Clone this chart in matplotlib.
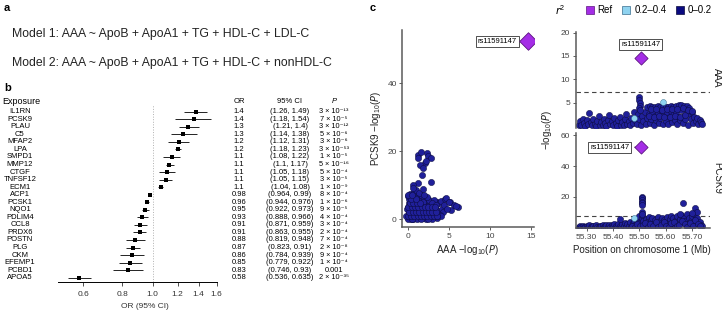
import numpy as np
import matplotlib.pyplot as plt
from matplotlib.lines import Line2D

plt.rcParams['font.family'] = ['Liberation Sans', 'DejaVu Sans']
plt.rcParams['mathtext.default'] = 'regular'

W, H = 722, 312

# ---- panel b: forest plot data ----
exposures = ['IL1RN', 'PCSK9', 'PLAU', 'C5', 'MFAP2', 'LPA', 'SMPD1', 'MMP12', 'CTGF',
             'TNFSF12', 'ECM1', 'ACP1', 'PCSK1', 'NQO1', 'PDLIM4', 'CCL8', 'PRDX6',
             'POSTN', 'PLG', 'CKM', 'EFEMP1', 'PCBD1', 'APOA5']
or_point = [1.37, 1.35, 1.30, 1.25, 1.21, 1.20, 1.15, 1.13, 1.11, 1.10, 1.06, 0.977,
            0.96, 0.947, 0.926, 0.914, 0.908, 0.881, 0.865, 0.858, 0.848, 0.833, 0.583]
or_text = ['1.4', '1.4', '1.3', '1.3', '1.2', '1.2', '1.1', '1.1', '1.1', '1.1', '1.1', '0.98',
           '0.96', '0.95', '0.93', '0.91', '0.91', '0.88', '0.87', '0.86', '0.85', '0.83', '0.58']
ci_lo = [1.26, 1.18, 1.21, 1.14, 1.12, 1.18, 1.08, 1.1, 1.05, 1.05, 1.04, 0.964, 0.944,
         0.922, 0.888, 0.871, 0.863, 0.819, 0.823, 0.784, 0.779, 0.746, 0.536]
ci_hi = [1.49, 1.54, 1.4, 1.38, 1.31, 1.23, 1.22, 1.17, 1.18, 1.15, 1.08, 0.99, 0.976,
         0.973, 0.966, 0.959, 0.955, 0.948, 0.91, 0.939, 0.922, 0.93, 0.635]
ci_text = ['(1.26, 1.49)', '(1.18, 1.54)', '(1.21, 1.4)', '(1.14, 1.38)', '(1.12, 1.31)',
           '(1.18, 1.23)', '(1.08, 1.22)', '(1.1, 1.17)', '(1.05, 1.18)', '(1.05, 1.15)',
           '(1.04, 1.08)', '(0.964, 0.99)', '(0.944, 0.976)', '(0.922, 0.973)',
           '(0.888, 0.966)', '(0.871, 0.959)', '(0.863, 0.955)', '(0.819, 0.948)',
           '(0.823, 0.91)', '(0.784, 0.939)', '(0.779, 0.922)', '(0.746, 0.93)',
           '(0.536, 0.635)']
p_mant = ['3', '7', '3', '5', '3', '3', '1', '5', '5', '3', '1', '8', '1', '9', '4', '3',
          '2', '7', '2', '9', '1', None, '2']
p_exp = [-13, -5, -12, -6, -6, -53, -5, -16, -4, -5, -9, -4, -6, -5, -4, -4, -4, -4, -8,
         -4, -4, None, -35]
or_ticks = [0.6, 0.8, 1.0, 1.2, 1.4, 1.6]

# ---- panel c: colocalization data ----
scat_aaa = [1.3, 2.3, 1.3, 2.5, 2.1, 1.5, 2.8, 1.7, 2.8, 1.3, 0.7, 1.6, 2.2, 1.9,
            0.0, 0.1, 0.2, 0.3, 0.4, 0.5, 0.6, 0.7, 0.8, 0.9, 1.0, 1.1, 1.2, 1.3, 1.4,
            1.5, 1.6, 1.7, 1.8, 1.9, 2.0, 2.1, 2.2, 2.3, 2.4, 2.5, 2.6, 2.7, 2.8, 2.9,
            3.0, 3.1, 3.2, 3.3, 3.4, 3.5, 3.6, 3.7, 3.8, 4.0, 4.2, 4.3, 4.5, 4.7, 5.1,
            5.3, 6.1, 5.6, 0.2, 0.5, 0.3, 0.8, 1.2, 1.6, 1.0, 0.6, 2.0, 2.6, 1.8, 0.1,
            0.0, 0.4, 0.9, 1.1, 1.5, 2.2, 2.7, 3.0, 3.3, 0.2, 1.4, 2.4, 3.2, 0.7, 1.9,
            0.0, 0.5, 1.6, 2.5, 3.5, 0.3, 0.7, 1.2, 1.8, 2.3, 2.8, 3.1, 3.9, 4.1, 0.1,
            0.9, 1.3, 2.9, 3.4, 4.4, 4.8, 5.0, 5.8, -0.2, -0.1, 0.6, 1.0, 2.0, 3.6,
            0.0, 0.4, 0.8, 1.2, 1.6, 2.0, 2.4, 2.8, 3.2, 3.6, 0.2, 0.6, 1.0, 1.4, 1.8,
            2.2, 2.6, 3.0, 3.4, 0.1, 0.5, 0.9, 1.3, 1.7, 2.1, 2.5, 2.9, 3.3, 0.3, 0.7,
            1.1, 1.5, 0.4, 1.0, 0.0, 0.5]
scat_pcsk9 = [18.8, 19.5, 17.8, 18.5, 16.4, 15.9, 17.8, 12.9, 11.0, 10.5, 10.0, 19.8, 17.2, 15.0,
              0.2, 1.0, 2.1, 0.5, 3.2, 1.5, 0.1, 2.6, 4.1, 0.8, 1.9, 3.5, 0.3, 2.4, 5.2,
              1.1, 0.6, 3.0, 1.7, 0.2, 2.8, 4.5, 1.3, 0.4, 3.7, 2.0, 0.9, 1.5, 0.3, 2.6,
              4.2, 1.0, 0.5, 3.3, 1.8, 0.2, 5.0, 2.3, 4.6, 5.4, 3.0, 2.1, 5.8, 6.1, 5.1,
              2.6, 3.6, 4.2, 4.8, 6.3, 7.4, 7.9, 6.8, 7.2, 8.4, 5.6, 6.0, 5.5, 4.9, 3.6,
              2.9, 0.0, 2.5, 0.0, 3.9, 0.0, 3.2, 0.0, 2.0, 5.9, 7.6, 6.6, 5.6, 9.0, 8.7,
              0.0, 0.0, 0.0, 0.0, 1.2, 1.6, 1.2, 1.4, 2.9, 2.3, 2.0, 3.0, 1.3, 0.8, 6.8,
              5.3, 4.4, 4.7, 4.0, 4.0, 3.0, 4.9, 3.8, 1.0, 3.0, 4.0, 6.1, 7.0, 1.0,
              1.0, 1.0, 1.0, 1.0, 1.0, 1.0, 1.0, 1.0, 1.0, 1.0, 2.2, 2.2, 2.2, 2.2, 2.2,
              2.2, 2.2, 2.2, 2.2, 3.4, 3.4, 3.4, 3.4, 3.4, 3.4, 3.4, 3.4, 3.4, 4.6, 4.6,
              4.6, 4.6, 5.8, 5.8, 7.0, 7.0]

band_pos = [55.270, 55.275, 55.280, 55.285, 55.290, 55.295, 55.300, 55.305, 55.310, 55.315,
            55.320, 55.325, 55.330, 55.335, 55.340, 55.345, 55.350, 55.355, 55.360, 55.365,
            55.370, 55.375, 55.380, 55.385, 55.390, 55.395, 55.400, 55.405, 55.410, 55.415,
            55.420, 55.425, 55.430, 55.435, 55.440, 55.445, 55.450, 55.455, 55.460, 55.465,
            55.470, 55.475, 55.480, 55.485, 55.490, 55.495, 55.500, 55.505, 55.510, 55.515,
            55.520, 55.525, 55.530, 55.535, 55.540, 55.545, 55.550, 55.555, 55.560, 55.565,
            55.570, 55.575, 55.580, 55.585, 55.590, 55.595, 55.600, 55.605, 55.610, 55.615,
            55.620, 55.625, 55.630, 55.635, 55.640, 55.645, 55.650, 55.655, 55.660, 55.665,
            55.670, 55.675, 55.680, 55.685, 55.690, 55.695, 55.700, 55.705, 55.710, 55.715,
            55.720, 55.725, 55.730, 55.735, 55.740]
aaa_band = [0.3, 1.0, 0.2, 1.6, 0.6, 0.1, 1.2, 0.4, 2.7, 0.8, 0.2, 1.4, 0.5, 0.1, 1.1, 2.2,
            0.3, 0.9, 0.2, 1.5, 0.6, 0.1, 1.3, 2.4, 0.4, 1.0, 0.2, 1.7, 0.7, 0.1, 1.2, 2.0,
            0.3, 0.9, 0.2, 1.4, 2.5, 0.5, 1.1, 0.2, 1.8, 0.6, 2.9, 1.3, 0.4, 2.6, 1.5, 0.3,
            2.2, 1.0, 3.1, 0.5, 1.8, 2.6, 0.7, 1.4, 3.0, 0.3, 2.1, 1.2, 2.8, 0.6, 1.7, 3.2,
            0.4, 2.3, 1.1, 2.9, 0.5, 1.9, 3.3, 0.8, 2.4, 1.3, 3.0, 0.4, 2.0, 1.2, 3.4, 0.7,
            2.2, 1.5, 3.1, 0.3, 2.6, 1.4, 2.9, 0.6, 2.0, 1.1, 1.7, 0.4, 1.3, 0.8, 0.5]
pcsk9_band = [0.4, 0.9, 0.2, 1.3, 0.6, 0.3, 1.1, 0.5, 1.5, 0.2, 0.8, 1.2, 0.4, 1.6, 0.7, 0.2,
              1.4, 0.9, 1.8, 0.3, 1.1, 2.0, 0.6, 1.5, 0.2, 1.9, 0.8, 2.3, 1.2, 0.4, 2.6, 1.0,
              0.3, 2.1, 1.4, 3.0, 0.7, 2.2, 1.1, 3.4, 0.5, 2.8, 4.1, 1.6, 5.2, 3.0, 7.5, 2.4,
              6.0, 4.4, 1.2, 5.6, 3.5, 6.8, 2.0, 4.9, 6.2, 1.5, 5.3, 3.1, 7.0, 2.6, 4.6, 6.5,
              1.8, 5.0, 3.8, 6.9, 2.2, 5.5, 7.3, 3.3, 6.1, 1.4, 4.8, 7.8, 2.9, 5.7, 8.2, 3.6,
              6.4, 4.2, 8.9, 2.5, 6.0, 4.5, 7.6, 3.0, 9.0, 5.4, 6.6, 3.2, 4.0, 1.9, 0.8]

aaa_hit_pos = [55.499, 55.500, 55.501, 55.502, 55.500, 55.503, 55.530, 55.540, 55.550, 55.560,
               55.570, 55.580, 55.590, 55.600, 55.610, 55.620, 55.630, 55.640, 55.650, 55.660,
               55.670, 55.680, 55.690, 55.535, 55.555, 55.575, 55.595, 55.615, 55.635, 55.655,
               55.675, 55.545, 55.565, 55.585, 55.605, 55.625, 55.645, 55.665, 55.685, 55.700]
aaa_hit_logp = [6.3, 5.6, 4.9, 4.3, 3.8, 3.4, 4.1, 4.2, 4.0, 4.1, 4.2, 4.1, 4.0, 4.1, 4.0,
                4.2, 4.1, 4.3, 4.5, 4.4, 4.3, 4.2, 3.9, 2.1, 2.0, 2.2, 2.0, 1.9, 2.1, 2.0,
                2.3, 3.6, 3.7, 3.5, 3.6, 3.7, 3.6, 3.8, 3.5, 3.2]

pcsk9_fill_pos = [55.4725, 55.4825, 55.4925, 55.5025, 55.5125, 55.5225, 55.5325, 55.5425,
                  55.5525, 55.5625, 55.5725, 55.5825, 55.5925, 55.6025, 55.6125, 55.6225,
                  55.6325, 55.6425, 55.6525, 55.6625, 55.6725, 55.6825, 55.6925, 55.7025,
                  55.7125, 55.7225, 55.7325]
pcsk9_fill_logp = [1.0, 0.4, 2.2, 0.8, 1.5, 3.0, 0.6, 2.4, 1.1, 3.6, 0.5, 2.0, 4.0, 1.3,
                   0.7, 2.8, 3.9, 0.9, 1.7, 4.4, 2.6, 0.6, 3.3, 1.2, 4.7, 2.1, 0.9]
pcsk9_hit_pos = [55.510, 55.510, 55.511, 55.509, 55.510, 55.511, 55.510, 55.509, 55.512,
                 55.667, 55.712, 55.720, 55.427, 55.700, 55.655]
pcsk9_hit_logp = [20.0, 19.0, 18.0, 17.0, 16.0, 15.0, 10.4, 8.0, 9.2, 15.8, 12.6, 10.4,
                  5.4, 9.6, 9.0]

aaa_mid_pos = [55.589, 55.481]        # r2 0.2-0.4
aaa_mid_logp = [5.2, 1.65]
pcsk9_mid_pos = [55.480]
pcsk9_mid_logp = [6.5]

lead_snp = 'rs11591147'
lead_pos = 55.505
lead_aaa = 14.6
lead_pcsk9 = 52.3
gws = 7.3

NAVY = '#20209a'
NAVY_EDGE = '#0a0a3c'
LBLUE = '#8fd3f0'
PURPLE = '#a42de6'
GREY = '#5a5a5a'

SUP = str.maketrans('-0123456789', '⁻⁰¹²³⁴⁵⁶⁷⁸⁹')


def fbox(l, t, r, b):
    return [l / W, 1 - b / H, (r - l) / W, (b - t) / H]


fig = plt.figure(figsize=(W / 100, H / 100), dpi=100)

# panel letters
for lab, x, y in [('a', 4, 8), ('b', 4, 88), ('c', 370, 8)]:
    fig.text(x / W, 1 - y / H, lab, fontsize=8, fontweight='bold', ha='left', va='center')

# ---- a ----
fig.text(12 / W, 1 - 34 / H, 'Model 1: AAA ~ ApoB + ApoA1 + TG + HDL-C + LDL-C',
         fontsize=8.8, ha='left', va='center', color='#222')
fig.text(12 / W, 1 - 63 / H, 'Model 2: AAA ~ ApoB + ApoA1 + TG + HDL-C + nonHDL-C',
         fontsize=8.8, ha='left', va='center', color='#222')

# ---- b ----
ax_f = fig.add_axes(fbox(58.4, 105, 216.7, 281.7))
rows = np.arange(len(exposures))
ax_f.hlines(rows, ci_lo, ci_hi, color='black', lw=0.6)
ax_f.scatter(or_point, rows, marker='s', s=6, color='black', zorder=3, linewidths=0)
ax_f.axvline(1.0, color='#b0b0b0', lw=0.7, ls=':')
ax_f.set_xscale('log')
ax_f.set_xlim(0.5, 1.6)
ax_f.set_ylim(22.53, -0.89)
ax_f.set_xticks(or_ticks)
ax_f.set_xticklabels([f'{t:.1f}' for t in or_ticks])
ax_f.xaxis.set_minor_locator(plt.NullLocator())
ax_f.tick_params(axis='x', labelsize=6, length=3, width=0.6, pad=4, colors='#333')
ax_f.set_yticks([])
for s in ['top', 'right', 'left']:
    ax_f.spines[s].set_visible(False)
ax_f.spines['bottom'].set_linewidth(0.7)
fig.text(145 / W, 1 - 307 / H, 'OR (95% CI)', fontsize=6, ha='center', va='center', color='#333')

tr = ax_f.get_yaxis_transform()
hdr_y = -1.33
ax_f.text(-0.356, hdr_y, 'Exposure', transform=tr, fontsize=6.5, ha='left', va='center', clip_on=False)
ax_f.text(1.141, hdr_y, 'OR', transform=tr, fontsize=5.5, ha='center', va='center', clip_on=False)
ax_f.text(1.463, hdr_y, '95% CI', transform=tr, fontsize=5.5, ha='center', va='center', clip_on=False)
ax_f.text(1.741, hdr_y, 'P', transform=tr, fontsize=5.5, ha='center', va='center',
          style='italic', clip_on=False)
for i, name in enumerate(exposures):
    ax_f.text(-0.243, i, name, transform=tr, fontsize=5.5, ha='center', va='center', clip_on=False)
    ax_f.text(1.141, i, or_text[i], transform=tr, fontsize=5.5, ha='center', va='center', clip_on=False)
    ax_f.text(1.463, i, ci_text[i], transform=tr, fontsize=5.5, ha='center', va='center', clip_on=False)
    if p_mant[i] is None:
        ptxt = '0.001'
    else:
        ptxt = f'{p_mant[i]} × 10' + str(p_exp[i]).translate(SUP)
    ax_f.text(1.741, i, ptxt, transform=tr, fontsize=5.3, ha='center', va='center', clip_on=False)

# ---- c: scatter of -log10 P ----
pt_kw = dict(s=20, c=NAVY, edgecolors=NAVY_EDGE, linewidths=0.35, zorder=2)
dia_kw = dict(marker='D', c=PURPLE, edgecolors='#5c1580', linewidths=0.6, zorder=4)
box_kw = dict(boxstyle='square,pad=0.25', fc='white', ec='#333', lw=0.6)


def style_axes(ax, bottom=True):
    for s in ['top', 'right']:
        ax.spines[s].set_visible(False)
    ax.spines['left'].set_color(GREY)
    ax.spines['left'].set_linewidth(1.1)
    ax.spines['bottom'].set_color(GREY)
    ax.spines['bottom'].set_linewidth(1.1)
    if not bottom:
        ax.spines['bottom'].set_visible(False)
        ax.set_xticks([])
    ax.tick_params(labelsize=6, length=2, width=0.6, colors='#444', pad=2)


ax_s = fig.add_axes(fbox(402.3, 30, 534.3, 227.3))
ax_s.scatter(scat_aaa, scat_pcsk9, **pt_kw)
ax_s.scatter([lead_aaa], [lead_pcsk9], s=80, **dia_kw)
ax_s.annotate(lead_snp, xy=(lead_aaa, lead_pcsk9), xytext=(-8, 0), textcoords='offset points',
              ha='right', va='center', fontsize=5.5, bbox=box_kw,
              arrowprops=dict(arrowstyle='-', color='#333', lw=0.6))
ax_s.set_xlim(-0.65, 15.35)
ax_s.set_ylim(-2.44, 55.6)
ax_s.set_xticks([0, 5, 10, 15])
ax_s.set_yticks([0, 20, 40])
style_axes(ax_s)
fig.text(467 / W, 1 - 250 / H, 'AAA −log$_{10}$($\\mathit{P}$)', fontsize=7,
         ha='center', va='center', color='#222')
fig.text(376 / W, 1 - 128 / H, 'PCSK9 −log$_{10}$($\\mathit{P}$)', fontsize=7, rotation=90,
         ha='center', va='center', color='#222')

# ---- c: regional plots ----
xl = (55.258, 55.769)
ax_t = fig.add_axes(fbox(575.7, 31.7, 710, 128))
ax_t.scatter(band_pos, aaa_band, **pt_kw)
ax_t.scatter(aaa_hit_pos, aaa_hit_logp, **pt_kw)
ax_t.scatter(aaa_mid_pos, aaa_mid_logp, s=18, c=LBLUE, edgecolors='#3a6f8f', linewidths=0.35, zorder=3)
ax_t.scatter([lead_pos], [lead_aaa], s=45, **dia_kw)
ax_t.annotate(lead_snp, xy=(lead_pos, lead_aaa), xytext=(0, 9.5), textcoords='offset points',
              ha='center', va='center', fontsize=5.5, bbox=box_kw)
ax_t.axhline(gws, color='#444', lw=0.8, ls=(0, (4, 3)), zorder=1)
ax_t.set_xlim(*xl)
ax_t.set_ylim(-0.43, 20.2)
ax_t.set_yticks([5, 10, 15, 20])
style_axes(ax_t, bottom=False)

ax_b = fig.add_axes(fbox(575.7, 133, 710, 228.3))
ax_b.scatter(band_pos, pcsk9_band, **pt_kw)
ax_b.scatter(pcsk9_fill_pos, pcsk9_fill_logp, **pt_kw)
ax_b.scatter(pcsk9_hit_pos, pcsk9_hit_logp, **pt_kw)
ax_b.scatter(pcsk9_mid_pos, pcsk9_mid_logp, s=18, c=LBLUE, edgecolors='#3a6f8f', linewidths=0.35, zorder=3)
ax_b.scatter([lead_pos], [lead_pcsk9], s=45, **dia_kw)
ax_b.annotate(lead_snp, xy=(lead_pos, lead_pcsk9), xytext=(-8, 0), textcoords='offset points',
              ha='right', va='center', fontsize=5.5, bbox=box_kw,
              arrowprops=dict(arrowstyle='-', color='#333', lw=0.6))
ax_b.axhline(gws, color='#444', lw=0.8, ls=(0, (4, 3)), zorder=1)
ax_b.set_xlim(*xl)
ax_b.set_ylim(-0.4, 61.5)
ax_b.set_yticks([20, 40, 60])
ax_b.set_xticks([55.3, 55.4, 55.5, 55.6, 55.7])
ax_b.set_xticklabels(['55.30', '55.40', '55.50', '55.60', '55.70'])
style_axes(ax_b)

fig.text(642 / W, 1 - 250 / H, 'Position on chromosome 1 (Mb)', fontsize=7,
         ha='center', va='center', color='#222')
fig.text(547 / W, 1 - 130 / H, '−log$_{10}$($\\mathit{P}$)', fontsize=7, rotation=90,
         ha='center', va='center', color='#222')
fig.text(717 / W, 1 - 78 / H, 'AAA', fontsize=7, rotation=-90, ha='center', va='center', color='#222')
fig.text(717 / W, 1 - 178 / H, 'PCSK9', fontsize=7, rotation=-90, ha='center', va='center', color='#222')

# legend
fig.text(560 / W, 1 - 10 / H, '$\\mathit{r}^2$', fontsize=7.5, ha='center', va='center')
handles = [Line2D([], [], marker='s', ls='', ms=6, mfc=PURPLE, mec='#5c1580', mew=0.5),
           Line2D([], [], marker='s', ls='', ms=6, mfc=LBLUE, mec='#3a6f8f', mew=0.5),
           Line2D([], [], marker='s', ls='', ms=6, mfc='#0a0a80', mec=NAVY_EDGE, mew=0.5)]
fig.legend(handles, ['Ref', '0.2–0.4', '0–0.2'], loc='center left',
           bbox_to_anchor=(586 / W, 1 - 10 / H), ncol=3, frameon=False, fontsize=7,
           handlelength=0.8, handletextpad=0.4, columnspacing=1.0, borderaxespad=0, borderpad=0)

fig.savefig('out.png', dpi=100)
